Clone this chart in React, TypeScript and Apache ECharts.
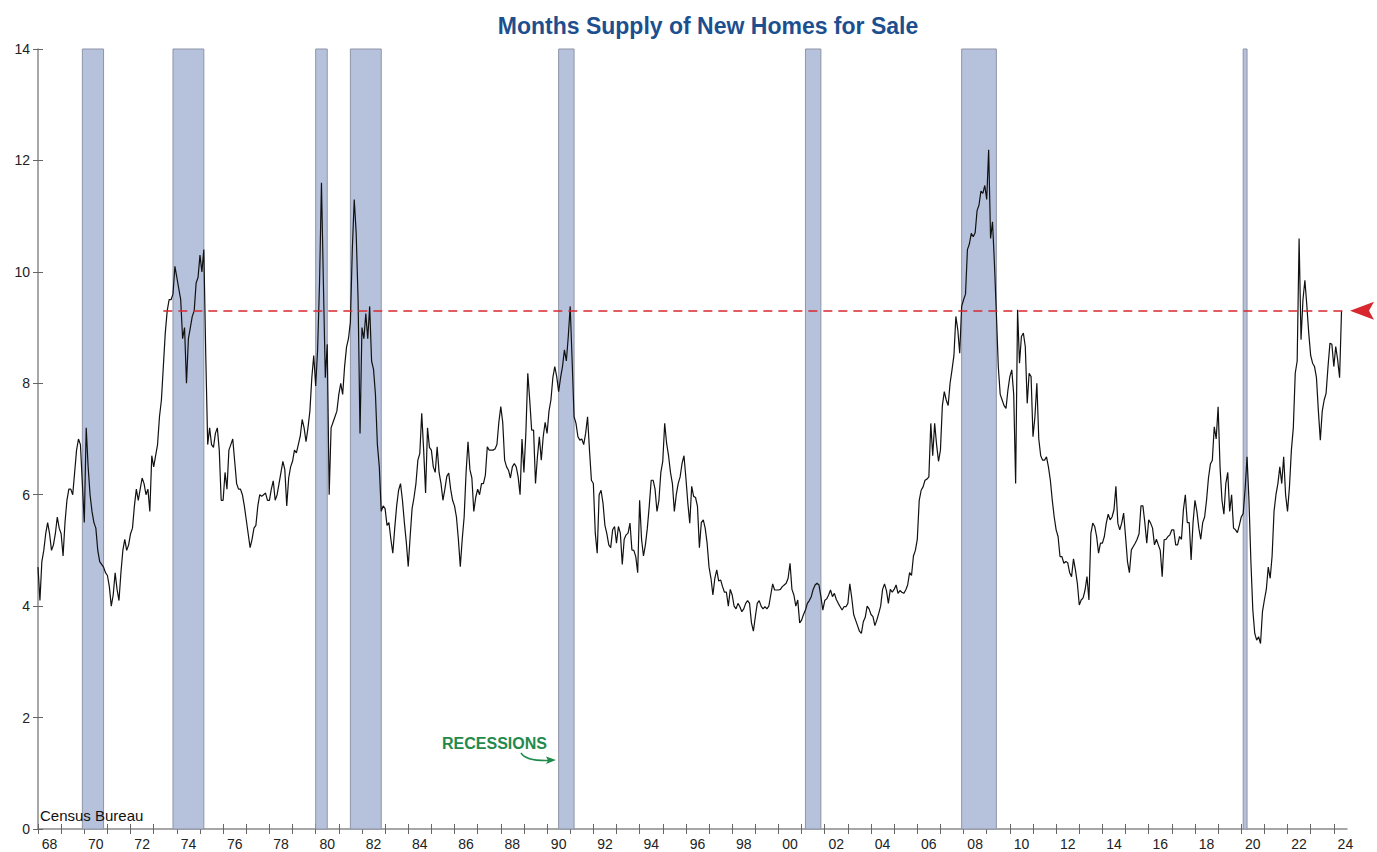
import React, { useEffect, useRef } from "react";
import * as echarts from "echarts";

// Months' supply of new homes for sale, monthly, Jan 1968 - May 2024
const START_YEAR = 1968;
const s1968_1979 = [
  4.7, 4.1, 4.8, 5.0, 5.3, 5.5, 5.3, 5.0, 5.1, 5.3, 5.6, 5.4,
  5.3, 4.9, 5.5, 5.9, 6.1, 6.1, 6.0, 6.4, 6.8, 7.0, 6.9, 6.2,
  5.5, 7.2, 6.5, 6.0, 5.7, 5.5, 5.4, 5.0, 4.8, 4.75, 4.7, 4.6,
  4.55, 4.35, 4.0, 4.2, 4.6, 4.3, 4.1, 4.6, 5.0, 5.2, 5.0, 5.1,
  5.3, 5.4, 5.8, 6.1, 5.9, 6.1, 6.3, 6.2, 6.0, 6.1, 5.7, 6.7,
  6.5, 6.7, 6.9, 7.4, 7.7, 8.3, 8.9, 9.3, 9.5, 9.5, 9.6, 10.1,
  9.9, 9.7, 9.5, 8.8, 9.0, 8.0, 8.8, 9.0, 9.2, 9.3, 9.8, 9.9,
  10.3, 10.0, 10.4, 8.5, 6.9, 7.2, 6.9, 6.85, 7.1, 7.2, 6.8, 5.9,
  5.9, 6.4, 6.1, 6.8, 6.9, 7.0, 6.6, 6.2, 6.1, 6.1, 6.0, 5.8,
  5.55, 5.3, 5.05, 5.2, 5.4, 5.45, 5.8, 6.0, 5.97, 6.0, 6.03, 5.9,
  5.9, 6.1, 6.25, 5.9, 6.0, 6.2, 6.4, 6.6, 6.45, 5.8, 6.3, 6.5,
  6.6, 6.8, 6.75, 6.9, 7.05, 7.35, 7.2, 6.95, 7.2, 7.5, 8.1, 8.5,
];
const s1980_1989 = [
  7.95, 8.6, 9.8, 11.6, 9.8, 8.1, 8.7, 6.0, 7.2, 7.3, 7.4, 7.5,
  7.8, 8.0, 7.8, 8.3, 8.65, 8.8, 9.1, 10.4, 11.3, 10.7, 9.5, 7.1,
  9.0, 8.8, 9.25, 8.8, 9.38, 8.4, 8.25, 7.8, 6.9, 6.5, 5.7, 5.8,
  5.75, 5.45, 5.5, 5.2, 4.95, 5.4, 5.8, 6.08, 6.2, 5.9, 5.5, 5.15,
  4.71, 5.25, 5.75, 5.95, 6.2, 6.62, 6.74, 7.46, 6.8, 6.03, 7.2, 6.85,
  6.8, 6.5, 6.4, 6.86, 6.4, 6.2, 5.9, 6.1, 6.33, 6.39, 6.1, 5.9,
  5.8, 5.6, 5.2, 4.71, 5.2, 5.6, 6.4, 6.95, 6.45, 6.3, 5.7, 5.95,
  6.1, 6.0, 6.2, 6.2, 6.35, 6.86, 6.8, 6.8, 6.8, 6.82, 6.9, 7.3,
  7.58, 7.3, 6.62, 6.5, 6.44, 6.3, 6.5, 6.56, 6.5, 6.32, 6.0, 7.0,
  6.4, 7.1, 8.18, 7.7, 7.16, 7.16, 6.2, 6.68, 7.04, 6.62, 7.04, 7.3,
];
const s1990_1999 = [
  7.1, 7.5, 7.7, 8.1, 8.3, 8.12, 7.85, 8.1, 8.3, 8.6, 8.4, 8.84,
  9.38, 8.4, 7.4, 7.28, 7.04, 6.98, 7.0, 6.9, 7.1, 7.4, 6.8, 6.26,
  6.2, 5.31, 4.95, 6.0, 6.08, 5.85, 5.45, 5.3, 5.1, 5.05, 5.37, 5.43,
  5.13, 5.43, 5.31, 4.75, 5.2, 5.28, 5.31, 5.49, 5.01, 5.0, 4.89, 4.6,
  5.9, 5.2, 4.9, 5.1, 5.4, 5.8, 6.26, 6.26, 6.1, 5.7, 5.9, 6.4,
  6.6, 7.28, 6.92, 6.7, 6.4, 6.2, 5.7, 6.0, 6.2, 6.32, 6.56, 6.7,
  6.3, 5.85, 5.49, 6.15, 5.97, 5.95, 5.79, 5.05, 5.5, 5.55, 5.4, 5.13,
  4.7, 4.5, 4.2, 4.5, 4.65, 4.45, 4.47, 4.35, 4.25, 4.25, 4.0, 4.3,
  4.2, 4.0, 3.95, 4.05, 3.99, 3.9, 3.95, 4.05, 4.1, 4.05, 3.7, 3.55,
  3.81, 4.05, 4.1, 4.0, 3.95, 3.99, 3.95, 4.0, 4.2, 4.4, 4.29, 4.29,
];
const s2000_2009 = [
  4.29, 4.3, 4.35, 4.38, 4.41, 4.5, 4.77, 4.3, 4.2, 4.0, 4.11, 3.7,
  3.75, 3.85, 3.93, 4.05, 4.1, 4.17, 4.3, 4.38, 4.41, 4.38, 4.17, 3.93,
  4.1, 4.13, 4.2, 4.29, 4.17, 4.23, 4.12, 4.05, 3.99, 3.93, 3.99, 3.99,
  4.05, 4.4, 4.15, 3.85, 3.75, 3.65, 3.55, 3.51, 3.72, 3.8, 4.0, 3.95,
  3.85, 3.81, 3.65, 3.75, 3.87, 4.0, 4.3, 4.4, 4.28, 4.05, 4.3, 4.25,
  4.3, 4.38, 4.23, 4.28, 4.25, 4.23, 4.29, 4.38, 4.6, 4.55, 4.9, 5.0,
  5.2, 5.9, 6.08, 6.14, 6.26, 6.28, 6.32, 7.28, 6.7, 7.28, 6.9, 6.6,
  6.8, 7.6, 7.85, 7.7, 7.6, 8.0, 8.24, 8.5, 9.2, 8.96, 8.54, 9.38,
  9.5, 9.6, 10.4, 10.5, 10.69, 10.63, 10.7, 11.1, 11.2, 11.45, 11.41, 11.55,
  11.3, 12.19, 10.6, 10.9, 10.15, 9.26, 8.3, 7.8, 7.7, 7.6, 7.55, 7.88,
];
const s2010_2019 = [
  8.12, 8.24, 7.8, 6.2, 9.32, 8.36, 8.84, 8.9, 8.66, 7.64, 8.18, 8.12,
  7.04, 7.4, 8.0, 7.0, 6.7, 6.62, 6.62, 6.68, 6.5, 6.26, 5.9, 5.6,
  5.37, 5.25, 4.89, 4.89, 4.77, 4.8, 4.78, 4.6, 4.53, 4.85, 4.65, 4.41,
  4.02, 4.11, 4.15, 4.29, 4.53, 4.11, 5.3, 5.49, 5.43, 5.25, 4.95, 5.13,
  5.13, 5.25, 5.49, 5.65, 5.55, 5.6, 5.73, 6.15, 5.49, 5.37, 5.49, 5.67,
  5.25, 4.8, 4.6, 5.01, 5.07, 5.13, 5.2, 5.3, 5.8, 5.8, 5.5, 5.13,
  5.55, 5.49, 5.4, 5.1, 5.2, 5.1, 5.0, 4.53, 5.19, 5.2, 5.25, 5.28,
  5.37, 5.37, 5.1, 5.1, 5.25, 5.2, 5.73, 6.0, 5.5, 5.5, 4.83, 5.5,
  5.9, 5.7, 5.4, 5.2, 5.5, 5.6, 5.9, 6.3, 6.55, 6.62, 7.22, 7.0,
  7.58, 6.5, 5.9, 5.65, 6.2, 6.4, 5.7, 6.0, 5.4, 5.37, 5.32, 5.45,
];
const s2020_2024 = [
  5.6, 5.66, 6.1, 6.68, 5.9, 4.8, 3.93, 3.51, 3.39, 3.45, 3.33, 3.9,
  4.11, 4.3, 4.7, 4.5, 4.9, 5.7, 6.0, 6.2, 6.5, 6.2, 6.68, 6.0,
  5.7, 6.14, 6.8, 7.2, 8.18, 8.4, 10.6, 8.78, 9.5, 9.85, 9.4, 8.9,
  8.5, 8.36, 8.3, 8.1, 7.5, 6.98, 7.5, 7.7, 7.82, 8.3, 8.72, 8.7,
  8.3, 8.66, 8.42, 8.1, 9.3,
];

// NBER recessions (first month, last month)
const recessionStarts = ["1969-12", "1973-11", "1980-01", "1981-07", "1990-07", "2001-03", "2007-12", "2020-02"];
const recessionEnds = ["1970-11", "1975-03", "1980-07", "1982-11", "1991-03", "2001-11", "2009-06", "2020-04"];

// x axis: yearly ticks, labels every two years
const tickYears = Array.from({ length: 57 }, (_, i) => 1968 + i);
const labelYears = [1968, 1970, 1972, 1974, 1976, 1978, 1980, 1982, 1984, 1986, 1988, 1990, 1992, 1994, 1996, 1998, 2000, 2002, 2004, 2006, 2008, 2010, 2012, 2014, 2016, 2018, 2020, 2022, 2024];
const X_MAX = 2024.57;

// reference level (latest reading)
const referenceLevel = 9.3;
const referenceStart = "1973-06";

const FONT = "'Liberation Sans', Arial, sans-serif";

function ym(s: string): number {
  const [y, m] = s.split("-").map(Number);
  return y + (m - 1) / 12;
}

export default function App() {
  const ref = useRef<HTMLDivElement>(null);

  useEffect(() => {
    const chart = echarts.init(ref.current!, null, { renderer: "svg" });
    const values = [...s1968_1979, ...s1980_1989, ...s1990_1999, ...s2000_2009, ...s2010_2019, ...s2020_2024];
    const data = values.map((v, i) => [START_YEAR + i / 12, v]);

    const axisGray = "#8a8a8a";
    const baseX = {
      type: "value",
      min: START_YEAR,
      max: X_MAX,
      position: "bottom",
      splitLine: { show: false },
    };
    const baseY = {
      type: "value",
      min: 0,
      max: 14,
      interval: 2,
      position: "left",
      splitLine: { show: false },
    };

    chart.setOption({
      animation: false,
      backgroundColor: "#ffffff",
      grid: { left: 38, right: 30, top: 49, bottom: 23, containLabel: false },
      xAxis: [
        {
          ...baseX,
          axisLine: { show: true, lineStyle: { color: axisGray, width: 1.5 } },
          axisTick: { show: true, customValues: tickYears, length: 5, lineStyle: { color: "#666", width: 1 } },
          axisLabel: {
            show: true,
            customValues: labelYears.map((y) => y + 0.5),
            formatter: (v: number) => String(Math.floor(v) % 100).padStart(2, "0"),
            fontSize: 14,
            color: "#222",
            fontFamily: FONT,
            margin: 8,
          },
        },
        {
          ...baseX,
          axisLine: { show: false },
          axisTick: { show: true, inside: true, customValues: tickYears, length: 5, lineStyle: { color: "#666", width: 1 } },
          axisLabel: { show: false },
        },
      ],
      yAxis: [
        {
          ...baseY,
          axisLine: { show: true, lineStyle: { color: axisGray, width: 1.5 } },
          axisTick: { show: true, length: 5, lineStyle: { color: "#666", width: 1 } },
          axisLabel: { show: true, fontSize: 14, color: "#222", fontFamily: FONT, margin: 8 },
        },
        {
          ...baseY,
          axisLine: { show: false },
          axisTick: { show: true, inside: true, length: 5, lineStyle: { color: "#666", width: 1 } },
          axisLabel: { show: false },
        },
      ],
      series: [
        {
          type: "line",
          name: "recessions",
          data: [],
          z: 1,
          silent: true,
          markArea: {
            silent: true,
            itemStyle: { color: "#b6c1dc", borderColor: "#8e95a6", borderWidth: 1 },
            data: recessionStarts.map((s, i) => [{ xAxis: ym(s) }, { xAxis: ym(recessionEnds[i]) }]),
          },
        },
        {
          type: "line",
          name: "Months supply",
          data,
          z: 3,
          symbol: "none",
          showSymbol: false,
          lineStyle: { color: "#111111", width: 1.2 },
          markLine: {
            silent: true,
            symbol: ["none", "none"],
            label: { show: false },
            lineStyle: { color: "#d7282f", type: [9, 6], width: 1.5 },
            data: [[{ coord: [ym(referenceStart), referenceLevel] }, { coord: [X_MAX, referenceLevel] }]],
          },
          markPoint: {
            silent: true,
            symbol: "path://M0,9L24,0L19,9L24,18Z",
            symbolSize: [24, 18],
            symbolOffset: [15, 0],
            itemStyle: { color: "#d7282f" },
            label: { show: false },
            data: [{ coord: [X_MAX, referenceLevel] }],
          },
        },
      ],
      graphic: [
        {
          type: "text",
          z: 100,
          x: 708,
          y: 26,
          style: {
            text: "Months Supply of New Homes for Sale",
            fill: "#1d4f8f",
            font: `bold 23px ${FONT}`,
            textAlign: "center",
            textVerticalAlign: "middle",
          },
        },
        {
          type: "text",
          z: 100,
          x: 40,
          y: 815,
          style: {
            text: "Census Bureau",
            fill: "#111",
            font: `15px ${FONT}`,
            textAlign: "left",
            textVerticalAlign: "middle",
          },
        },
        {
          type: "text",
          z: 100,
          x: 442,
          y: 743,
          style: {
            text: "RECESSIONS",
            fill: "#1f8a4c",
            font: `bold 16px ${FONT}`,
            textAlign: "left",
            textVerticalAlign: "middle",
          },
        },
        {
          type: "bezierCurve",
          z: 100,
          shape: { x1: 521, y1: 753, cpx1: 526, cpy1: 761, x2: 548, y2: 760.5 },
          style: { stroke: "#1f8a4c", lineWidth: 1.5, fill: null },
        },
        {
          type: "polygon",
          z: 100,
          shape: { points: [[556, 760], [546, 756.5], [548, 760.5], [546, 764]] },
          style: { fill: "#1f8a4c" },
        },
      ],
    });

    return () => chart.dispose();
  }, []);

  return <div ref={ref} style={{ position: "fixed", left: 0, top: 0, width: 1377, height: 852 }} />;
}
